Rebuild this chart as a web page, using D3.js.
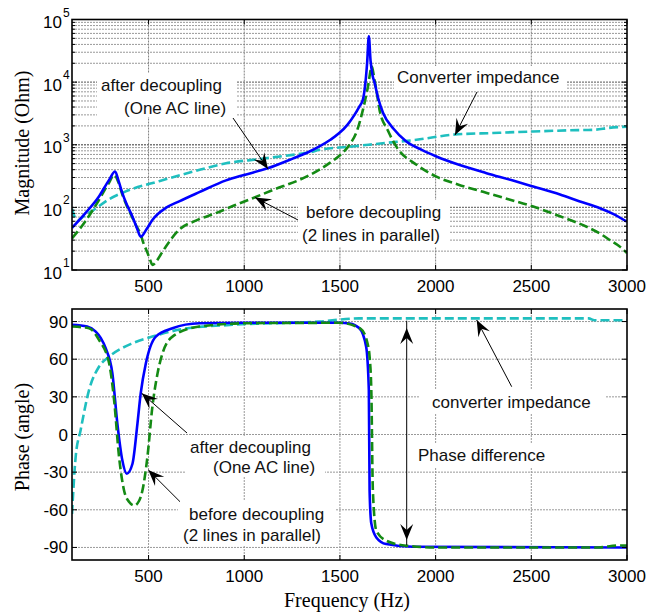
<!DOCTYPE html>
<html><head><meta charset="utf-8">
<script src="https://cdn.jsdelivr.net/npm/d3@7"></script>
<style>body{margin:0;background:#fff}</style>
</head><body><svg id="c" width="649" height="615"></svg>
<script>
// ---------- DATA ----------
const xTicks = [500, 1000, 1500, 2000, 2500, 3000];
const magTicks = [10, 100, 1000, 10000, 100000];
const magTickExp = ["1", "2", "3", "4", "5"];
const phaseTicks = [-90, -60, -30, 0, 30, 60, 90];

// Magnitude: after decoupling (One AC line)
const magAfterF = [100,170,240,294,325,345,363,390,416,440,459,490,520,590,660,765,905,1000,1122,1253,1341,1393,1450,1498,1540,1576,1600,1620,1630,1642,1651,1660,1670,1681,1700,1725,1780,1847,1920,2004,2130,2266,2400,2510,2650,2750,2859,2930,3000];
const magAfter  = [47,81,148,275,374,255,169,105,71,46,34,45,63,98,125,175,270,330,420,600,780,940,1200,1550,2100,3000,4000,5250,8000,20000,54000,22000,13000,9800,5500,3250,1800,1130,850,650,470,352,270,215,160,125,97,78,59];
// Magnitude: before decoupling (2 lines in parallel)
const magBeforeF = [100,170,240,294,320,345,363,390,416,440,456,475,495,510,520,535,546,590,660,750,852,950,1044,1150,1288,1393,1445,1500,1550,1590,1620,1645,1667,1680,1690,1707,1750,1794,1900,2004,2120,2248,2380,2510,2650,2789,2860,2911,2960,3000];
const magBefore  = [32,60,130,250,331,240,160,100,68,48,39,26,18.6,14,12,13,14.5,23.6,44,62,81,108,140,190,275,400,510,680,1000,1700,3600,8000,17800,11000,7600,3600,1700,940,480,310,230,177,135,103,72,49,38,30,24,18.6];
// Magnitude: converter impedance
const magConvF = [100,115,130,160,206,294,381,555,730,905,1079,1253,1341,1393,1550,1742,1900,2091,2300,2510,2700,2836,2900,3000];
const magConv  = [95,70,62,72,88,135,180,262,370,505,590,690,755,830,930,1070,1200,1450,1540,1630,1700,1740,1850,1950];

// Phase: after decoupling
const phAfterF = [100,180,224,250,276,311,337,363,386,416,442,459,486,538,625,765,1000,1500,1550,1602,1637,1651,1655,1664,1690,1742,1882,3000];
const phAfter  = [87.4,86,82,77,68.7,48.7,8.7,-20.6,-31.3,-23.3,8.7,32.7,56.7,78,84.7,88.7,89,89,88.5,84.7,70,35.4,-44.6,-71,-82,-87.3,-89.4,-90];
// Phase: before decoupling
const phBeforeF = [100,189,241,294,320,346,372,400,425,450,468,494,520,547,573,625,765,1027,1500,1610,1645,1655,1664,1672,1690,1742,1847,2000,2850,2950,3000];
const phBefore  = [86,84.7,75.4,56.7,27.4,-18,-44.6,-54,-56.6,-53,-44.6,-18,22,48.7,64.7,78,86,88.7,89,84,72,62,35,-44.6,-76.6,-84.6,-88.6,-90,-90,-88.5,-88.5];
// Phase: converter impedance
const phConvF = [100,119,145,189,241,294,416,520,677,939,1393,1600,2800,2830,3000];
const phConv  = [-63.3,-18,3.4,35.4,54,62,72.7,78,84,87.4,90,92.5,92.5,91,91];

// ---------- SETUP ----------
const svg = d3.select('#c');
svg.append('rect').attr('width', 649).attr('height', 615).attr('fill', '#fff');
const L = 72, R = 627;
const x = d3.scaleLinear().domain([100, 3000]).range([L, R]);
const yMag = d3.scaleLog().domain([10, 1e5]).range([270, 19.5]);
const yPh = d3.scaleLinear().domain([-100, 100]).range([560, 309]);
const SANS = "'Liberation Sans', Arial, sans-serif";
const SERIF = "'Liberation Serif', 'Times New Roman', serif";
const cBlue = '#0000ff', cGreen = '#148a14', cCyan = '#1fbfbf';

const defs = svg.append('defs');
defs.append('clipPath').attr('id', 'clipTop').append('rect')
  .attr('x', L).attr('y', yMag.range()[1]).attr('width', R - L).attr('height', yMag.range()[0] - yMag.range()[1]);
defs.append('clipPath').attr('id', 'clipBot').append('rect')
  .attr('x', L).attr('y', yPh.range()[1]).attr('width', R - L).attr('height', yPh.range()[0] - yPh.range()[1]);

// ---------- GRIDS ----------
const gTop = svg.append('g');
const minorVals = [];
[10, 100, 1000, 10000].forEach(d => { for (let m = 2; m <= 9; m++) minorVals.push(d * m); });
gTop.selectAll('line.minor').data(minorVals).join('line')
  .attr('x1', L).attr('x2', R).attr('y1', d => yMag(d)).attr('y2', d => yMag(d))
  .attr('stroke', '#999').attr('stroke-width', 1).attr('stroke-dasharray', '2,1');
gTop.selectAll('line.major').data(magTicks.slice(1, -1)).join('line')
  .attr('x1', L).attr('x2', R).attr('y1', d => yMag(d)).attr('y2', d => yMag(d))
  .attr('stroke', '#777').attr('stroke-width', 1.3).attr('stroke-dasharray', '2,1');
gTop.selectAll('line.v').data(xTicks.slice(0, -1)).join('line')
  .attr('x1', d => x(d)).attr('x2', d => x(d)).attr('y1', yMag.range()[1]).attr('y2', yMag.range()[0])
  .attr('stroke', '#808080').attr('stroke-width', 1).attr('stroke-dasharray', '2,1');

const gBot = svg.append('g');
gBot.selectAll('line.h').data(phaseTicks).join('line')
  .attr('x1', L).attr('x2', R).attr('y1', d => yPh(d)).attr('y2', d => yPh(d))
  .attr('stroke', '#999').attr('stroke-width', 1).attr('stroke-dasharray', '2,1');
gBot.selectAll('line.v').data(xTicks.slice(0, -1)).join('line')
  .attr('x1', d => x(d)).attr('x2', d => x(d)).attr('y1', yPh.range()[1]).attr('y2', yPh.range()[0])
  .attr('stroke', '#999').attr('stroke-width', 1).attr('stroke-dasharray', '2,1');

// ---------- TEXT BOXES (white backgrounds) ----------
const boxes = [
  [97, 73, 139, 44], [298, 200, 152, 47], [394, 66, 173, 24],
  [185, 436, 140, 41], [178, 501, 157, 44], [420, 390, 185, 23], [412, 443, 146, 24]
];
svg.selectAll('rect.box').data(boxes).join('rect')
  .attr('x', d => d[0]).attr('y', d => d[1]).attr('width', d => d[2]).attr('height', d => d[3])
  .attr('fill', '#fff');

// ---------- CURVES ----------
function drawLine(g, fs, vs, ys, color, dash, clip) {
  const pts = fs.map((f, i) => [f, vs[i]]);
  const line = d3.line().x(d => x(d[0])).y(d => ys(d[1])).curve(d3.curveMonotoneX);
  g.append('path').datum(pts).attr('d', line)
    .attr('fill', 'none').attr('stroke', color).attr('stroke-width', 2.6)
    .attr('stroke-dasharray', dash).attr('stroke-linejoin', 'round')
    .attr('clip-path', `url(#${clip})`);
}
const curves = svg.append('g');
drawLine(curves, magConvF, magConv, yMag, cCyan, '9,4', 'clipTop');
drawLine(curves, magBeforeF, magBefore, yMag, cGreen, '9,4', 'clipTop');
drawLine(curves, magAfterF, magAfter, yMag, cBlue, null, 'clipTop');
drawLine(curves, phConvF, phConv, yPh, cCyan, '9,4', 'clipBot');
drawLine(curves, phAfterF, phAfter, yPh, cBlue, null, 'clipBot');
drawLine(curves, phBeforeF, phBefore, yPh, cGreen, '9,4', 'clipBot');

// ---------- AXES BOXES, TICKS ----------
function frame(yTop, yBot) {
  svg.append('rect').attr('x', L).attr('y', yTop).attr('width', R - L).attr('height', yBot - yTop)
    .attr('fill', 'none').attr('stroke', '#000').attr('stroke-width', 1.6);
  xTicks.forEach(t => {
    svg.append('line').attr('x1', x(t)).attr('x2', x(t)).attr('y1', yBot).attr('y2', yBot - 5).attr('stroke', '#000');
    svg.append('line').attr('x1', x(t)).attr('x2', x(t)).attr('y1', yTop).attr('y2', yTop + 5).attr('stroke', '#000');
    svg.append('text').attr('x', x(t)).attr('y', yBot + 22).attr('text-anchor', 'middle')
      .attr('font-family', SANS).attr('font-size', 17).text(t);
  });
}
frame(yMag.range()[1], yMag.range()[0]);
frame(yPh.range()[1], yPh.range()[0]);

// top y ticks
magTicks.forEach((t, i) => {
  const yy = yMag(t);
  svg.append('line').attr('x1', L).attr('x2', L + 5).attr('y1', yy).attr('y2', yy).attr('stroke', '#000');
  svg.append('line').attr('x1', R).attr('x2', R - 5).attr('y1', yy).attr('y2', yy).attr('stroke', '#000');
  svg.append('text').attr('x', 62).attr('y', yy + 8.5).attr('text-anchor', 'end')
    .attr('font-family', SANS).attr('font-size', 17).text('10');
  svg.append('text').attr('x', 63).attr('y', yy - 3).attr('text-anchor', 'start')
    .attr('font-family', SANS).attr('font-size', 12).text(magTickExp[i]);
});
minorVals.forEach(t => {
  const yy = yMag(t);
  svg.append('line').attr('x1', L).attr('x2', L + 3).attr('y1', yy).attr('y2', yy).attr('stroke', '#000');
  svg.append('line').attr('x1', R).attr('x2', R - 3).attr('y1', yy).attr('y2', yy).attr('stroke', '#000');
});
// bottom y ticks
phaseTicks.forEach(t => {
  const yy = yPh(t);
  svg.append('line').attr('x1', L).attr('x2', L + 5).attr('y1', yy).attr('y2', yy).attr('stroke', '#000');
  svg.append('line').attr('x1', R).attr('x2', R - 5).attr('y1', yy).attr('y2', yy).attr('stroke', '#000');
  svg.append('text').attr('x', 68).attr('y', yy + 6).attr('text-anchor', 'end')
    .attr('font-family', SANS).attr('font-size', 17).text(t);
});

// axis titles
svg.append('text').attr('transform', 'translate(29,143) rotate(-90)').attr('text-anchor', 'middle')
  .attr('font-family', SERIF).attr('font-size', 20).text('Magnitude (Ohm)');
svg.append('text').attr('transform', 'translate(29,437) rotate(-90)').attr('text-anchor', 'middle')
  .attr('font-family', SERIF).attr('font-size', 20).text('Phase (angle)');
svg.append('text').attr('x', 347).attr('y', 607).attr('text-anchor', 'middle')
  .attr('font-family', SERIF).attr('font-size', 20).text('Frequency (Hz)');

// ---------- ANNOTATIONS ----------
const labels = [
  ['after decoupling', 101, 91], ['(One AC line)', 124, 114],
  ['before decoupling', 306, 218], ['(2 lines in parallel)', 302, 241],
  ['Converter impedance', 397, 83],
  ['after decoupling', 190, 453], ['(One AC line)', 213, 473],
  ['before decoupling', 189, 520], ['(2 lines in parallel)', 183, 541],
  ['converter impedance', 432, 408], ['Phase difference', 418, 461]
];
labels.forEach(l => svg.append('text').attr('x', l[1]).attr('y', l[2])
  .attr('font-family', SANS).attr('font-size', 17).attr('fill', '#111').text(l[0]));

function arrowHead(xt, yt, ang) {
  const len = 16, wid = 13;
  svg.append('path')
    .attr('d', `M0,0 L${-len},${-wid / 2} L${-len * 0.62},0 L${-len},${wid / 2} Z`)
    .attr('transform', `translate(${xt},${yt}) rotate(${ang * 180 / Math.PI})`)
    .attr('fill', '#000');
}
function arrow(x0, y0, x1, y1) {
  svg.append('line').attr('x1', x0).attr('y1', y0).attr('x2', x1).attr('y2', y1)
    .attr('stroke', '#000').attr('stroke-width', 1);
  arrowHead(x1, y1, Math.atan2(y1 - y0, x1 - x0));
}
const arrows = [
  [233, 118, 268, 169], [298, 220, 255, 197.5], [477, 92, 455, 135],
  [187, 433, 141.7, 393.3], [180, 501.7, 148.3, 470], [511.7, 386.7, 476.7, 320]
];
arrows.forEach(a => arrow(a[0], a[1], a[2], a[3]));
// double arrow (phase difference)
svg.append('line').attr('x1', 406.7).attr('x2', 406.7).attr('y1', 320.7).attr('y2', 545)
  .attr('stroke', '#000').attr('stroke-width', 1);
arrowHead(406.7, 328, -Math.PI / 2);
arrowHead(406.7, 540, Math.PI / 2);
</script></body></html>
